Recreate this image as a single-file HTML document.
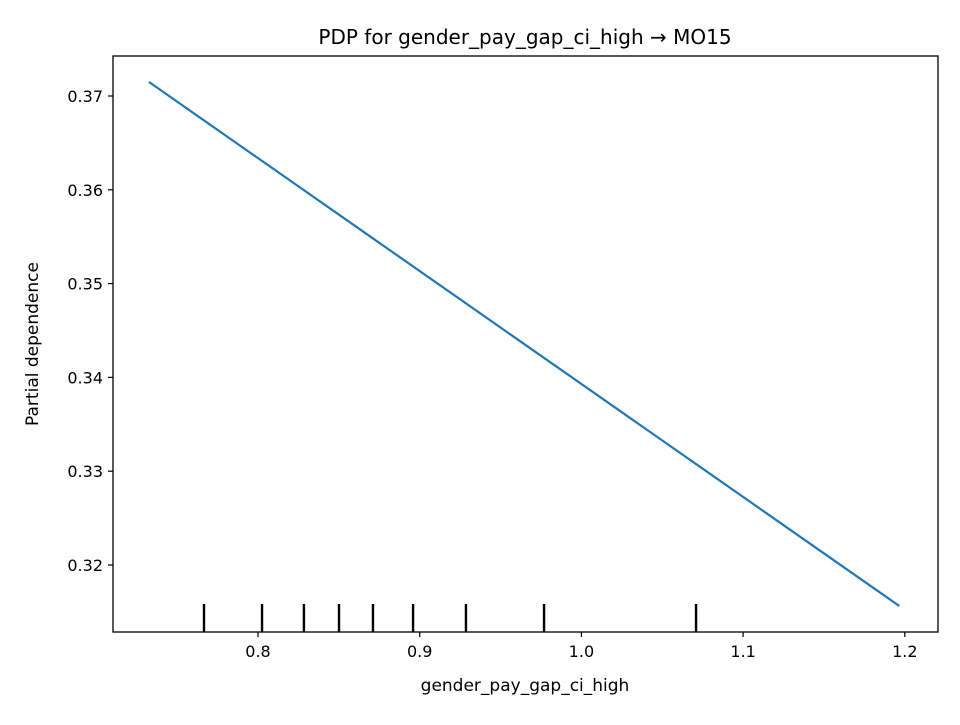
<!DOCTYPE html>
<html><head><meta charset="utf-8"><style>
body{margin:0;background:#fff;font-family:"Liberation Sans","DejaVu Sans",sans-serif;}
svg text{font-family:"DejaVu Sans","Liberation Sans",sans-serif;fill:#000;}
</style></head><body>
<svg id="chart" width="960" height="720" xmlns="http://www.w3.org/2000/svg">
<rect width="960" height="720" fill="#fff"/>
<text x="525" y="44" font-size="20" text-anchor="middle">PDP for gender_pay_gap_ci_high → MO15</text>
<g id="plot"></g>
<rect x="113" y="56" width="825" height="576" fill="none" stroke="#000" stroke-width="1.3"/>
<text x="525" y="691" font-size="17" text-anchor="middle">gender_pay_gap_ci_high</text>
<text transform="translate(38,344) rotate(-90)" font-size="17" text-anchor="middle">Partial dependence</text>
</svg>
<script>
const xTicks=[0.8,0.9,1.0,1.1,1.2];
const xTickLabels=["0.8","0.9","1.0","1.1","1.2"];
const yTicks=[0.32,0.33,0.34,0.35,0.36,0.37];
const yTickLabels=["0.32","0.33","0.34","0.35","0.36","0.37"];
const gridX=[0.7326,1.1966];
const pdValues=[0.37149,0.31563];
const deciles=[0.7666,0.8025,0.8284,0.8501,0.8711,0.8959,0.9286,0.9769,1.0709];
const sx=v=>258+(v-0.8)*1617;
const sy=v=>565-(v-0.32)*9380;
const NS="http://www.w3.org/2000/svg";
const g=document.getElementById('plot');
function mk(t,a){const e=document.createElementNS(NS,t);for(const k in a)e.setAttribute(k,a[k]);g.appendChild(e);return e;}
xTicks.forEach((v,i)=>{
 const l=mk('line',{x1:sx(v),x2:sx(v),y1:632,y2:637,stroke:'#000','stroke-width':1.2});
 
 
 const t=mk('text',{x:sx(v),y:657,'font-size':16,'text-anchor':'middle'});t.textContent=xTickLabels[i];
 
 
});
yTicks.forEach((v,i)=>{
 const l=mk('line',{x1:108,x2:113,y1:sy(v),y2:sy(v),stroke:'#000','stroke-width':1.2});
 
 
 const t=mk('text',{x:103,y:sy(v)+6,'font-size':16,'text-anchor':'end'});t.textContent=yTickLabels[i];
 
 
});
const pts=gridX.map((x,i)=>sx(x)+','+sy(pdValues[i])).join(' ');
const line=mk('polyline',{points:pts,fill:'none',stroke:'#1f77b4','stroke-width':2.2});


deciles.forEach(v=>{
 const l=mk('line',{x1:sx(v),x2:sx(v),y1:604,y2:632,stroke:'#000','stroke-width':2.4});
 
 
});
</script>
</body></html>
